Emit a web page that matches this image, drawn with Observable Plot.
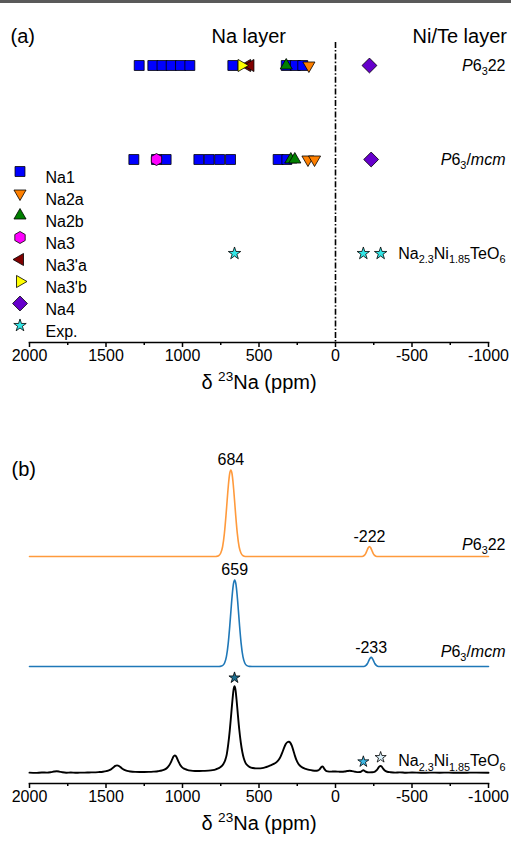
<!DOCTYPE html>
<html>
<head>
<meta charset="utf-8">
<script src="https://cdn.jsdelivr.net/npm/d3@7"></script>
<script src="https://cdn.jsdelivr.net/npm/@observablehq/plot@0.6"></script>
<style>
  body { margin: 0; background: #fff; }
  #chart { position: relative; width: 511px; height: 846px; overflow: hidden; background: #fff; }
  #chart svg { display: block; }
  #bar { position: absolute; left: 0; top: 0; width: 511px; height: 3px; background: #5a5a5a; }
</style>
</head>
<body>
<div id="chart"><div id="bar"></div></div>
<script>
// ---------- shared axis ----------
const xDomain = [2000, -1000];
const majorTicks = [2000, 1500, 1000, 500, 0, -500, -1000];
const minorTicks = [1750, 1250, 750, 250, -250, -750];

// ---------- panel (a): calculated and measured 23Na shifts (ppm) ----------
const siteNames = ["Na1", "Na2a", "Na2b", "Na3", "Na3'a", "Na3'b", "Na4", "Exp."];
const rowKeys = ["P6322", "P63mcm", "exp"];
const rowLabels = ["*P*6_{3}22", "*P*6_{3}/*mcm*", "Na_{2.3}Ni_{1.85}TeO_{6}"];

const p6322Na1 = [1283, 1194, 1134, 1074, 1013, 952, 671, 322, 262, 214];
const p6322Na2a = [174];
const p6322Na2b = [322];
const p6322Na3a = [578, 556];
const p6322Na3b = [614];
const p6322Na4 = [-222];

const p63mcmNa1 = [1318, 1170, 1107, 893, 826, 757, 686, 375, 318];
const p63mcmNa2a = [180, 137];
const p63mcmNa2b = [292, 266];
const p63mcmNa3 = [1170];
const p63mcmNa4 = [-233];

const expShifts = [660, -182, -295];

// ---------- panel (b): spectra, [shift (ppm), intensity (% of main peak)] ----------
const p6322Spectrum = [
  [2000, 0], [780, 0], [779, 0.1], [764, 0.9], [750, 4.0], [738, 11.3], [726, 27], [716, 47],
  [708, 65.3], [700, 82.7], [692, 95.4], [684, 100], [676, 95.4], [668, 82.7], [660, 65.3],
  [652, 47], [642, 27], [630, 11.3], [618, 4.0], [604, 0.9], [589, 0.1], [570, 0],
  [-167, 0], [-180, 0.36], [-190, 1.6], [-198, 3.7], [-206, 7.0], [-214, 10.1], [-222, 11.5],
  [-230, 10.1], [-238, 7.0], [-246, 3.7], [-254, 1.6], [-264, 0.36], [-277, 0], [-1000, 0]
];
const p63mcmSpectrum = [
  [2000, 0], [760, 0], [754, 0.1], [739, 0.9], [725, 4.0], [713, 11.3], [701, 27], [691, 47],
  [683, 65.3], [675, 82.7], [667, 95.4], [659, 100], [651, 95.4], [643, 82.7], [635, 65.3],
  [627, 47], [617, 27], [605, 11.3], [593, 4.0], [579, 0.9], [564, 0.1], [545, 0],
  [-178, 0], [-191, 0.33], [-201, 1.5], [-209, 3.4], [-217, 6.4], [-225, 9.2], [-233, 10.5],
  [-241, 9.2], [-249, 6.4], [-257, 3.4], [-265, 1.5], [-275, 0.33], [-288, 0], [-1000, 0]
];
const expSpectrum = [
  [2000, 0.2], [1960, -0.1], [1920, 0.3], [1885, 0.2], [1860, 0.7], [1840, 1.4], [1822, 1.8],
  [1805, 1.4], [1785, 0.6], [1760, 0.1], [1730, 0.3], [1700, 0.0], [1670, 0.2], [1640, 0.2],
  [1610, 0.4], [1580, 0.5], [1550, 0.8], [1520, 1.2], [1498, 1.9], [1478, 3.0], [1462, 4.7],
  [1450, 6.4], [1439, 7.9], [1428, 8.5], [1417, 8.1], [1406, 6.7], [1395, 5.0], [1380, 3.3],
  [1362, 2.1], [1340, 1.4], [1310, 1.0], [1280, 0.9], [1250, 0.9], [1220, 1.0], [1190, 1.3],
  [1160, 1.8], [1135, 2.6], [1115, 3.9], [1100, 5.8], [1088, 8.3], [1077, 11.8], [1067, 15.7],
  [1059, 18.7], [1051, 20.1], [1043, 19.2], [1035, 16.5], [1026, 12.8], [1016, 9.3], [1004, 6.6],
  [990, 4.8], [970, 3.4], [945, 2.5], [918, 2.1], [890, 2.0], [860, 2.2], [830, 2.5], [803, 3.1],
  [782, 4.0], [763, 5.3], [747, 7.2], [733, 10.2], [721, 14.5], [711, 21], [701, 33], [691, 49],
  [681, 69], [673, 85], [666, 96.5], [660, 100], [654, 96.5], [647, 85], [639, 69], [629, 50],
  [619, 35], [609, 24], [599, 16.5], [589, 11.8], [575, 8.5], [560, 6.6], [540, 5.5], [520, 5.1],
  [500, 5.1], [480, 5.4], [460, 6.2], [440, 7.4], [420, 8.8], [400, 10.5], [385, 12.3], [371, 15],
  [359, 18.6], [348, 23.3], [337, 28.5], [326, 33], [315, 35.3], [305, 35.8], [295, 34.6],
  [285, 31], [275, 25.5], [265, 19.5], [255, 14.5], [243, 10.5], [230, 7.8], [215, 5.9],
  [195, 4.4], [172, 3.3], [150, 2.6], [130, 2.3], [116, 2.6], [106, 3.6], [98, 5.3], [91, 6.9],
  [85, 7.3], [79, 6.3], [72, 4.2], [63, 2.4], [50, 1.6], [35, 1.3], [20, 1.4], [0, 1.5],
  [-20, 1.3], [-40, 1.1], [-60, 1.4], [-78, 2.0], [-93, 2.3], [-108, 1.9], [-128, 1.2],
  [-148, 0.7], [-162, 0.9], [-172, 2.0], [-182, 3.0], [-191, 2.1], [-202, 0.9], [-218, 0.5],
  [-240, 0.6], [-258, 1.4], [-271, 3.3], [-281, 6.0], [-289, 7.6], [-295, 8.0], [-302, 7.0],
  [-311, 4.8], [-322, 2.6], [-338, 1.2], [-360, 0.6], [-390, 0.2], [-420, 0.5], [-460, 0.1],
  [-500, 0.3], [-560, 0.0], [-620, 0.2], [-680, 0.1], [-740, 0.2], [-800, 0.0], [-860, 0.1],
  [-920, 0.2], [-1000, 0.1]
];
const p6322PeakLabels = [684, -222];
const p63mcmPeakLabels = [659, -233];

// ---------- helpers ----------
const fontFamily = "'Liberation Sans', Arial, Helvetica, sans-serif";

// regular polygon symbol; circumradius follows Plot's r
function polygon(n, rotation) {
  return {
    draw(ctx, size) {
      const r = Math.sqrt(size / Math.PI);
      for (let k = 0; k < n; ++k) {
        const a = rotation + (k * 2 * Math.PI) / n;
        const x = r * Math.cos(a), y = r * Math.sin(a);
        if (k) ctx.lineTo(x, y); else ctx.moveTo(x, y);
      }
      ctx.closePath();
    }
  };
}

const siteStyle = {
  "Na1":   {symbol: "square", fill: "#0000ff", r: 5.6},
  "Na2a":  {symbol: polygon(3, Math.PI / 2), fill: "#ff8000", r: 7},
  "Na2b":  {symbol: polygon(3, -Math.PI / 2), fill: "#008000", r: 7},
  "Na3":   {symbol: polygon(6, -Math.PI / 2), fill: "#ff00ff", r: 6},
  "Na3'a": {symbol: polygon(3, Math.PI), fill: "#800000", r: 7},
  "Na3'b": {symbol: polygon(3, 0), fill: "#ffff00", r: 7},
  "Na4":   {symbol: "diamond2", fill: "#6600cc", r: 6.7},
  "Exp.":  {symbol: "star", fill: "#33e6e6", r: 3.9}
};
const drawOrder = ["Na1", "Na3'a", "Na3'b", "Na2b", "Na2a", "Na3", "Na4", "Exp."];

const sitePoints = [];
function addSites(row, site, shifts) {
  for (const shift of shifts) sitePoints.push({row, site, shift});
}
addSites("P6322", "Na1", p6322Na1);
addSites("P6322", "Na2a", p6322Na2a);
addSites("P6322", "Na2b", p6322Na2b);
addSites("P6322", "Na3'a", p6322Na3a);
addSites("P6322", "Na3'b", p6322Na3b);
addSites("P6322", "Na4", p6322Na4);
addSites("P63mcm", "Na1", p63mcmNa1);
addSites("P63mcm", "Na2a", p63mcmNa2a);
addSites("P63mcm", "Na2b", p63mcmNa2b);
addSites("P63mcm", "Na3", p63mcmNa3);
addSites("P63mcm", "Na4", p63mcmNa4);
addSites("exp", "Exp.", expShifts);

function xAxisMarks(title) {
  return [
    Plot.frame({anchor: "bottom", stroke: "#000", strokeWidth: 1.6}),
    Plot.axisX({ticks: majorTicks, tickSize: 5, tickPadding: 2, tickFormat: d => String(d),
                label: null, fontSize: 16, strokeWidth: 1.5}),
    Plot.axisX({ticks: minorTicks, tickSize: 3, tickFormat: () => "", label: null, strokeWidth: 1.5}),
    Plot.text([title], {frameAnchor: "bottom", dy: 46, fontSize: 20})
  ];
}

// markup: *italic*, _{subscript}, ^{superscript}
function parseMarkup(s) {
  const segs = [];
  let italic = false, buf = "", i = 0;
  const flush = () => { if (buf) segs.push({text: buf, italic, shift: 0}); buf = ""; };
  while (i < s.length) {
    const c = s[i];
    if (c === "*") { flush(); italic = !italic; i++; }
    else if ((c === "_" || c === "^") && s[i + 1] === "{") {
      flush();
      const j = s.indexOf("}", i);
      segs.push({text: s.slice(i + 2, j), italic, shift: c === "_" ? 1 : -1});
      i = j + 1;
    } else { buf += c; i++; }
  }
  flush();
  return segs;
}
function applyRichText(svg) {
  const ns = "http://www.w3.org/2000/svg";
  svg.querySelectorAll("text").forEach(t => {
    const s = t.textContent;
    if (!/[*]|[_^]\{/.test(s)) return;
    const fs = parseFloat(getComputedStyle(t).fontSize) || 16;
    const segs = parseMarkup(s);
    t.textContent = "";
    let cur = 0;
    for (const seg of segs) {
      const ts = document.createElementNS(ns, "tspan");
      const target = seg.shift === 1 ? 0.3 * fs : seg.shift === -1 ? -0.4 * fs : 0;
      if (target !== cur) ts.setAttribute("dy", target - cur);
      cur = target;
      if (seg.shift) ts.setAttribute("font-size", 0.68 * fs);
      if (seg.italic) ts.setAttribute("font-style", "italic");
      ts.textContent = seg.text;
      t.appendChild(ts);
    }
  });
}

// ---------- panel (a) ----------
const legendMarks = siteNames.flatMap((name, i) => [
  Plot.dot([name], {frameAnchor: "top-left", dx: 19.5 - 29, dy: 171 + 22 * i - 42,
                    ...siteStyle[name], stroke: "#000", strokeWidth: 0.8}),
  Plot.text([name], {frameAnchor: "top-left", dx: 45 - 29, dy: 171 + 22 * i - 42,
                     textAnchor: "start", fontSize: 16})
]);

const plotA = Plot.plot({
  width: 511, height: 413,
  marginLeft: 29, marginRight: 23, marginTop: 42, marginBottom: 71,
  style: {fontFamily, fontSize: "16px", color: "#000", background: "transparent"},
  x: {domain: xDomain},
  y: {type: "point", domain: rowKeys, range: [64, 253], padding: 0, axis: null},
  marks: [
    Plot.ruleX([0], {stroke: "#000", strokeWidth: 1.6, strokeDasharray: "6,2,1.6,2"}),
    ...drawOrder.map(site => Plot.dot(sitePoints.filter(d => d.site === site), {
      x: "shift", y: "row", ...siteStyle[site], stroke: "#000", strokeWidth: 0.8
    })),
    Plot.text(rowKeys, {y: d => d, text: (d, i) => rowLabels[i], frameAnchor: "right",
                        dx: 17, textAnchor: "end", fontSize: 16}),
    ...legendMarks,
    Plot.text(["(a)"], {frameAnchor: "top-left", dx: 10 - 29, dy: 28 - 42, textAnchor: "start", fontSize: 20}),
    Plot.text(["Na layer"], {frameAnchor: "top-left", dx: 211 - 29, dy: 28 - 42, fontSize: 20}),
    Plot.text(["Ni/Te layer"], {frameAnchor: "top-left", dx: 412 - 29, dy: 28 - 42, fontSize: 20}),
    ...xAxisMarks("δ ^{23}Na (ppm)")
  ]
});

// ---------- panel (b) ----------
const spectra = [
  {data: p6322Spectrum, base: 262.4, color: "#ff9a3c", width: 1.6, label: rowLabels[0], labelDy: -12, peaks: p6322PeakLabels},
  {data: p63mcmSpectrum, base: 135.3, color: "#1f78b8", width: 1.6, label: rowLabels[1], labelDy: -15, peaks: p63mcmPeakLabels},
  {data: expSpectrum, base: 12.4, color: "#000000", width: 1.9, label: rowLabels[2], labelDy: -12, peaks: []}
];
const intensityAt = (data, ppm) => data.find(d => d[0] === ppm)[1];
const starFills = ["#1d6e8f", "#3db7e4", "#dcf1fb"];
const expStars = expShifts.map((shift, i) => ({shift, value: intensityAt(expSpectrum, shift), fill: starFills[i]}));

const plotB = Plot.plot({
  width: 511, height: 433,
  marginLeft: 29, marginRight: 23, marginTop: 0, marginBottom: 63,
  style: {fontFamily, fontSize: "16px", color: "#000", background: "transparent"},
  x: {domain: xDomain},
  y: {domain: [0, 100], range: [370, 283.5], axis: null},
  marks: [
    ...spectra.map(s => Plot.line(s.data, {
      x: d => d[0], y: d => s.base + d[1], stroke: s.color, strokeWidth: s.width, curve: "monotone-x"
    })),
    ...spectra.map(s => Plot.text(s.peaks, {
      x: d => d, y: d => s.base + intensityAt(s.data, d), text: d => String(d), dy: -10, fontSize: 16
    })),
    ...spectra.map(s => Plot.text([s.label], {
      y: () => s.base, frameAnchor: "right", dx: 17, dy: s.labelDy, textAnchor: "end", fontSize: 16
    })),
    Plot.dot(expStars, {
      x: "shift", y: d => spectra[2].base + d.value, dy: -8.5, symbol: "star", r: 3.5,
      fill: "fill", stroke: "#000", strokeWidth: 0.8
    }),
    Plot.text(["(b)"], {frameAnchor: "top-left", dx: 11 - 29, dy: 48, textAnchor: "start", fontSize: 20}),
    ...xAxisMarks("δ ^{23}Na (ppm)")
  ]
});

const chart = document.getElementById("chart");
chart.appendChild(plotA);
chart.appendChild(plotB);
applyRichText(plotA);
applyRichText(plotB);
</script>
</body>
</html>
